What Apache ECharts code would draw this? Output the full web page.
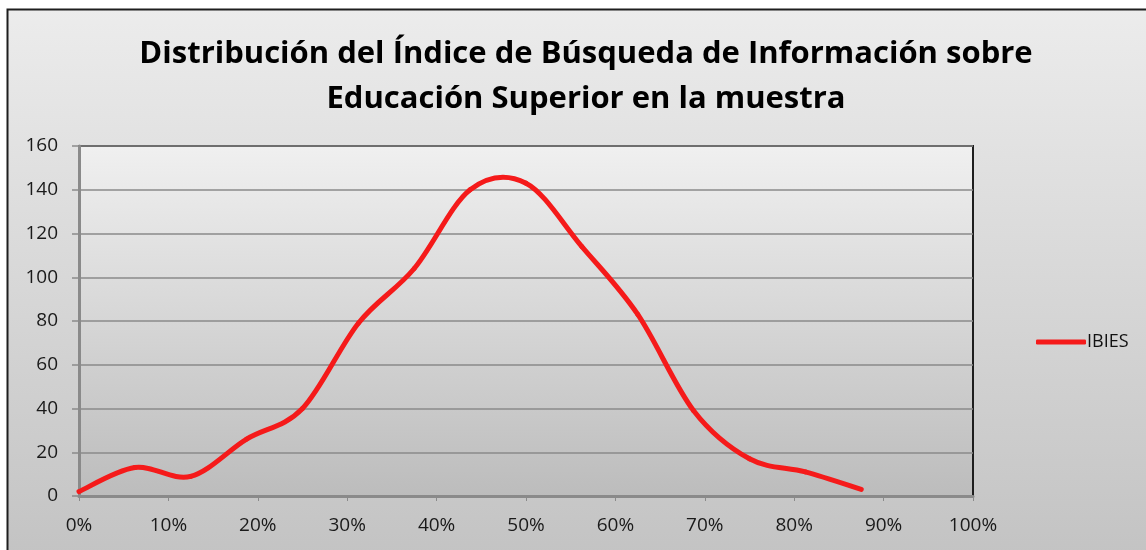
<!DOCTYPE html>
<html>
<head>
<meta charset="utf-8">
<script src="https://cdn.jsdelivr.net/npm/echarts@6/dist/echarts.min.js"></script>
<style>
  html, body { margin: 0; padding: 0; background: #fff; }
  #chart { width: 1146px; height: 550px; }
</style>
</head>
<body>
<div id="chart"></div>
<script>
// datos
var xVals = [0, 0.0625, 0.125, 0.1875, 0.25, 0.3125, 0.375, 0.4375, 0.5, 0.5625, 0.625, 0.6875, 0.75, 0.8125, 0.875];
var ibies = [2, 13, 9, 26, 40, 79, 104, 140, 143, 114, 83, 39, 17, 11, 3];
var seriesName = 'IBIES';
var titleText = 'Distribución del Índice de Búsqueda de Información sobre\nEducación Superior en la muestra';

var points = xVals.map(function (x, i) { return [x, ibies[i]]; });

var chart = echarts.init(document.getElementById('chart'));
var font = '"Open Sans", "Noto Sans", sans-serif';
var lineColor = '#f51a1a';

// curva suavizada como en Excel (Catmull-Rom), en coordenadas del grid
function renderCurve(params, api) {
  if (params.dataIndex !== 0) return null;
  var pts = points.map(function (p) { return api.coord(p); });
  var n = pts.length;
  var children = [];
  for (var i = 0; i < n - 1; i++) {
    var p0 = pts[Math.max(i - 1, 0)];
    var p1 = pts[i];
    var p2 = pts[i + 1];
    var p3 = pts[Math.min(i + 2, n - 1)];
    children.push({
      type: 'bezierCurve',
      shape: {
        x1: p1[0], y1: p1[1],
        x2: p2[0], y2: p2[1],
        cpx1: p1[0] + (p2[0] - p0[0]) / 6,
        cpy1: p1[1] + (p2[1] - p0[1]) / 6,
        cpx2: p2[0] - (p3[0] - p1[0]) / 6,
        cpy2: p2[1] - (p3[1] - p1[1]) / 6
      },
      style: { fill: null, stroke: lineColor, lineWidth: 5, lineCap: 'round', lineJoin: 'round' }
    });
  }
  return { type: 'group', children: children };
}

var option = {
  backgroundColor: '#fff',
  animation: false,
  graphic: [{
    type: 'rect',
    z: -10,
    silent: true,
    shape: { x: 7.5, y: 9.5, width: 1160, height: 560 },
    style: {
      fill: new echarts.graphic.LinearGradient(0, 0, 0, 1, [
        { offset: 0, color: '#ececec' },
        { offset: 1, color: '#c2c2c2' }
      ]),
      stroke: '#1e1e1e',
      lineWidth: 2
    }
  }],
  title: {
    text: titleText,
    left: 581,
    textAlign: 'center',
    top: 27,
    textStyle: {
      fontFamily: font,
      fontSize: 31,
      fontWeight: 'bold',
      color: '#000',
      lineHeight: 45
    }
  },
  legend: {
    left: 1031,
    top: 328,
    itemWidth: 50,
    itemHeight: 5,
    itemGap: 6,
    icon: 'roundRect',
    textStyle: { fontFamily: font, fontSize: 18, color: '#111', padding: [0, 0, 0, -4] },
    data: [{ name: seriesName, itemStyle: { color: lineColor } }]
  },
  grid: {
    left: 79,
    right: 173,
    top: 146,
    bottom: 54,
    show: true,
    borderColor: '#1e1e1e',
    borderWidth: 2,
    backgroundColor: new echarts.graphic.LinearGradient(0, 0, 0, 1, [
      { offset: 0, color: '#f0f0f0' },
      { offset: 1, color: '#bcbcbc' }
    ])
  },
  xAxis: {
    type: 'value',
    min: 0,
    max: 1,
    interval: 0.1,
    axisLine: { show: true, lineStyle: { color: '#8a8a8a', width: 3 } },
    axisTick: { show: true, length: 5, lineStyle: { color: '#8a8a8a', width: 1 } },
    splitLine: { show: false },
    axisLabel: {
      margin: 20,
      fontFamily: font,
      fontSize: 19,
      color: '#1a1a1a',
      formatter: function (v) { return Math.round(v * 100) + '%'; }
    }
  },
  yAxis: {
    type: 'value',
    min: 0,
    max: 160,
    interval: 20,
    axisLine: { show: true, lineStyle: { color: '#8a8a8a', width: 3 } },
    axisTick: { show: true, length: 7, lineStyle: { color: '#8a8a8a', width: 1.5 } },
    splitLine: { show: true, lineStyle: { color: '#8a8a8a', width: 1.5 } },
    axisLabel: {
      margin: 21,
      fontFamily: font,
      fontSize: 19,
      color: '#1a1a1a'
    }
  },
  series: [{
    name: seriesName,
    type: 'custom',
    coordinateSystem: 'cartesian2d',
    data: points,
    encode: { x: 0, y: 1 },
    itemStyle: { color: lineColor },
    renderItem: renderCurve
  }]
};

chart.setOption(option);
</script>
</body>
</html>
